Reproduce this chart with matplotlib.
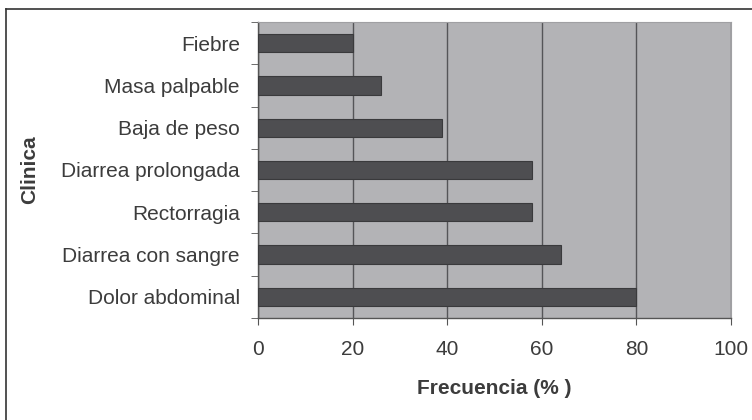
import matplotlib
matplotlib.use("Agg")
import matplotlib.pyplot as plt
from matplotlib.lines import Line2D

categories = ["Dolor abdominal", "Diarrea con sangre", "Rectorragia",
              "Diarrea prolongada", "Baja de peso", "Masa palpable", "Fiebre"]
values = [80, 64, 58, 58, 39, 26, 20]
xticks = [0, 20, 40, 60, 80, 100]

plt.rcParams['font.family'] = ['Liberation Sans', 'DejaVu Sans']

FS = 15
TC = '#3c3c3c'
fig = plt.figure(figsize=(7.52, 4.2), dpi=100)
ax = fig.add_axes([258/752, 1-318/420, (731-258)/752, (318-22)/420])
ax.set_facecolor('#b3b3b6')

ypos = list(range(len(categories)))
ax.barh(ypos, values, height=0.43, color='#4e4e51', edgecolor='#3a3a3c', linewidth=0.8, zorder=3)
ax.set_xlim(0, 100)
ax.set_ylim(-0.5, len(categories)-0.5)
ax.set_xticks(xticks)
ax.set_xticklabels([str(t) for t in xticks], fontsize=FS, color=TC)
ax.set_yticks(ypos)
ax.set_yticklabels(categories, fontsize=FS, color=TC)
ax.tick_params(axis='y', length=0, pad=13)
ax.set_yticks([i - 0.5 for i in range(len(categories)+1)], minor=True)
ax.tick_params(axis='y', which='minor', length=5, color='#555555', direction='out')
ax.tick_params(axis='x', length=5, color='#555555', pad=11)
ax.grid(axis='x', color='#555558', linewidth=1.0, zorder=1)
for s in ['top', 'right']:
    ax.spines[s].set_color('#a0a0a3')
    ax.spines[s].set_linewidth(0.8)
for s in ['left', 'bottom']:
    ax.spines[s].set_color('#555555')
    ax.spines[s].set_linewidth(1.0)

ax.set_xlabel("Frecuencia (% )", fontsize=FS, fontweight='bold', color=TC)
ax.xaxis.set_label_coords((494-258)/473, (318-389)/296)
ax.xaxis.label.set_va('center')
ax.set_ylabel("Clinica", fontsize=FS, fontweight='bold', color=TC)
ax.yaxis.set_label_coords((30-258)/473, 0.5)
ax.yaxis.label.set_va('center')

fig.add_artist(Line2D([6/752, 6/752], [0, 1-9/420], transform=fig.transFigure, color='#333333', linewidth=1.2))
fig.add_artist(Line2D([6/752, 1], [1-9/420, 1-9/420], transform=fig.transFigure, color='#333333', linewidth=1.2))

fig.savefig("out.png", dpi=100)
